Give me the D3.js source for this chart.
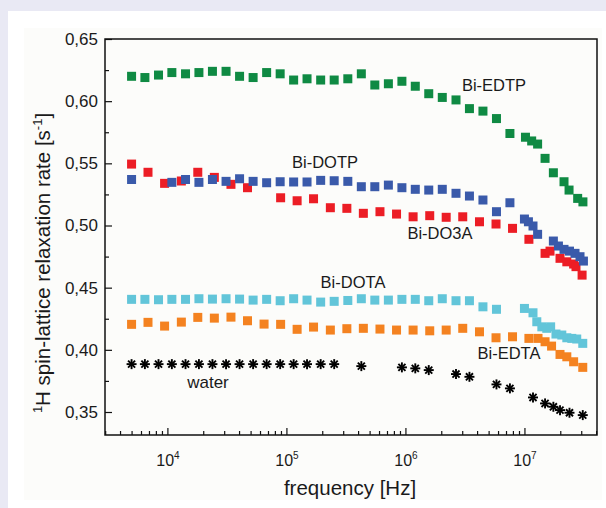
<!DOCTYPE html>
<html>
<head>
<meta charset="utf-8">
<script src="https://cdn.jsdelivr.net/npm/d3@7"></script>
<style>
  body { margin: 0; background: #e9e9f4; }
  svg { display: block; }
</style>
</head>
<body>
<svg id="chart" width="606" height="508"></svg>
<script>
// frequencies in Hz, rates in s^-1
const edtpFreq = [5000, 6470, 8420, 10900, 14200, 18400, 23900, 31100, 40400, 52500, 68200, 88600, 115000, 149000, 194000, 252000, 328000, 426000, 553000, 719000, 934000, 1210000, 1570000, 2040000, 2660000, 3450000, 4480000, 5820000, 7550000, 10200000, 11500000, 12900000, 14900000, 17500000, 21500000, 23700000, 28000000, 31000000];
const edtpRate = [0.620, 0.619, 0.621, 0.623, 0.622, 0.623, 0.624, 0.624, 0.620, 0.619, 0.623, 0.622, 0.617, 0.618, 0.617, 0.617, 0.618, 0.622, 0.613, 0.614, 0.616, 0.612, 0.606, 0.603, 0.601, 0.594, 0.592, 0.586, 0.574, 0.571, 0.568, 0.5655, 0.554, 0.5424, 0.5352, 0.5285, 0.5218, 0.519];

const dotpFreq = [5000, 10900, 14200, 18400, 23900, 31100, 40400, 52500, 68200, 88600, 115000, 149000, 194000, 252000, 328000, 426000, 553000, 719000, 934000, 1210000, 1570000, 2040000, 2660000, 3450000, 4480000, 5820000, 7550000, 10000000, 10800000, 11800000, 12900000, 17500000, 19300000, 21500000, 23900000, 26600000, 29300000, 31300000];
const dotpRate = [0.537, 0.5347, 0.537, 0.5347, 0.537, 0.5355, 0.5376, 0.5355, 0.5344, 0.5352, 0.535, 0.535, 0.5363, 0.536, 0.5355, 0.5312, 0.5312, 0.5325, 0.5304, 0.5291, 0.5285, 0.5291, 0.5259, 0.5237, 0.5205, 0.5111, 0.5183, 0.5052, 0.503, 0.4996, 0.4929, 0.4875, 0.4835, 0.4808, 0.4794, 0.4776, 0.4749, 0.4714];

const do3aFreq = [5000, 6870, 9470, 13100, 18000, 24800, 34200, 47100, 89400, 123000, 169000, 234000, 322000, 443000, 611000, 842000, 1160000, 1600000, 2200000, 3030000, 4190000, 5770000, 7940000, 10900000, 14900000, 16400000, 19900000, 22700000, 25900000, 27100000, 30500000];
const do3aRate = [0.5494, 0.5428, 0.5339, 0.5358, 0.5428, 0.5387, 0.5331, 0.5304, 0.5223, 0.5199, 0.5215, 0.5143, 0.5138, 0.5098, 0.5111, 0.5092, 0.507, 0.5079, 0.5066, 0.507, 0.503, 0.5012, 0.4977, 0.4889, 0.4776, 0.4794, 0.4736, 0.4708, 0.469, 0.4669, 0.4601];

const dotaFreq = [5000, 6470, 8420, 10900, 14200, 18400, 23900, 31100, 40400, 52500, 68200, 88600, 115000, 149000, 194000, 252000, 328000, 426000, 553000, 719000, 934000, 1210000, 1570000, 2040000, 2660000, 3450000, 4480000, 5820000, 10000000, 11800000, 12700000, 14000000, 15400000, 16600000, 18400000, 20600000, 22700000, 25000000, 27500000, 30900000];
const dotaRate = [0.4406, 0.4406, 0.4403, 0.4406, 0.4406, 0.4411, 0.4408, 0.4411, 0.4408, 0.440, 0.4406, 0.4395, 0.4411, 0.440, 0.4384, 0.439, 0.4397, 0.4411, 0.440, 0.440, 0.4406, 0.4406, 0.4395, 0.4411, 0.4395, 0.4395, 0.4346, 0.4326, 0.4333, 0.4298, 0.4226, 0.4185, 0.4173, 0.4185, 0.4127, 0.4119, 0.4097, 0.4092, 0.4087, 0.4052];

const edtaFreq = [5000, 6870, 9470, 13100, 18000, 24800, 34200, 47100, 64900, 89400, 123000, 169000, 234000, 322000, 443000, 611000, 842000, 1160000, 1600000, 2200000, 3030000, 4190000, 5770000, 7940000, 10900000, 13000000, 14900000, 16900000, 19900000, 22700000, 25900000, 30900000];
const edtaRate = [0.4205, 0.4221, 0.4191, 0.4223, 0.4261, 0.4255, 0.4263, 0.4234, 0.4207, 0.4205, 0.4165, 0.4183, 0.4159, 0.417, 0.4173, 0.4167, 0.4159, 0.4159, 0.4153, 0.4159, 0.4173, 0.4145, 0.4097, 0.4105, 0.4092, 0.4092, 0.4065, 0.403, 0.3963, 0.3944, 0.3904, 0.3859];

const waterFreq = [5000, 6470, 8420, 10900, 14200, 18400, 23900, 31100, 40400, 52500, 68200, 88600, 115000, 149000, 194000, 252000, 426000, 934000, 1210000, 1570000, 2660000, 3450000, 5820000, 7550000, 11800000, 14900000, 17500000, 19900000, 23900000, 30900000];
const waterRate = [0.3885, 0.3885, 0.3885, 0.3885, 0.3885, 0.3885, 0.3885, 0.3885, 0.3885, 0.3885, 0.3885, 0.3885, 0.3885, 0.3885, 0.3885, 0.3885, 0.3869, 0.3859, 0.3851, 0.3837, 0.3805, 0.3783, 0.3722, 0.369, 0.3617, 0.3569, 0.3542, 0.3515, 0.3494, 0.3475];

const yTicks = [0.35, 0.40, 0.45, 0.50, 0.55, 0.60, 0.65];
const yMinorTicks = [0.375, 0.425, 0.475, 0.525, 0.575, 0.625];
const xTicks = [1e4, 1e5, 1e6, 1e7];
const xExps = ["4", "5", "6", "7"];

const series = [
    {name: "Bi-EDTA", freq: edtaFreq, rate: edtaRate, color: "#f48220", label: [509, 359]},
    {name: "Bi-DOTA", freq: dotaFreq, rate: dotaRate, color: "#62c5d9", label: [353, 288]},
    {name: "Bi-DO3A", freq: do3aFreq, rate: do3aRate, color: "#ec1d25", label: [440, 239]},
    {name: "Bi-DOTP", freq: dotpFreq, rate: dotpRate, color: "#3a5aaa", label: [325, 168]},
    {name: "Bi-EDTP", freq: edtpFreq, rate: edtpRate, color: "#0f8a43", label: [494, 91]}
];

const svg = d3.select("#chart");
const mLeft = 105, mRight = 597, mTop = 39, mBottom = 435;

// backgrounds
svg.append("rect").attr("x", 8).attr("y", 11).attr("width", 598).attr("height", 497).attr("fill", "#ffffff");
svg.append("rect").attr("x", 24).attr("y", 28).attr("width", 578).attr("height", 472).attr("fill", "#fcfcfa");

const x = d3.scaleLog().domain([2990, 4.07e7]).range([mLeft, mRight]);
const y = d3.scaleLinear().domain([0.3315, 0.65]).range([mBottom, mTop]);

const font = "'Liberation Sans', Arial, sans-serif";

// y axis
const yAxis = d3.axisLeft(y)
        .tickValues(yTicks)
        .tickSize(-7)
        .tickPadding(7)
        .tickFormat(d => d3.format(".2f")(d).replace(".", ","));
const gy = svg.append("g").attr("transform", "translate(" + mLeft + ",0)").call(yAxis);
gy.select(".domain").remove();
gy.selectAll("text").attr("font-family", font).attr("font-size", 17).attr("fill", "#1a1a1a");
svg.append("g").attr("transform", "translate(" + mLeft + ",0)")
        .call(d3.axisLeft(y).tickValues(yMinorTicks).tickSize(-4).tickFormat(""))
        .select(".domain").remove();

// x axis, major + minor
let minor = [];
[1e3, 1e4, 1e5, 1e6, 1e7].forEach(p => {
    for (let m = 2; m <= 9; m++) {
        if (p * m > 2990 && p * m < 4.07e7) minor.push(p * m);
    }
});
const gx = svg.append("g").attr("transform", "translate(0," + mBottom + ")")
        .call(d3.axisBottom(x).tickValues(xTicks).tickSize(-7).tickFormat(""));
gx.select(".domain").remove();
gx.selectAll(".tick").append("text")
        .attr("y", 31)
        .attr("text-anchor", "middle")
        .attr("font-family", font)
        .attr("font-size", 16)
        .attr("fill", "#1a1a1a")
        .each(function (d, i) {
            const t = d3.select(this);
            t.append("tspan").text("10");
            t.append("tspan").attr("dy", -7).attr("font-size", 10).text(xExps[i]);
        });
svg.append("g").attr("transform", "translate(0," + mBottom + ")")
        .call(d3.axisBottom(x).tickValues(minor).tickSize(-4).tickFormat(""))
        .select(".domain").remove();

svg.selectAll(".tick line").attr("stroke", "#111").attr("stroke-width", 1.2);

// frame
svg.append("rect").attr("x", mLeft).attr("y", mTop)
        .attr("width", mRight - mLeft).attr("height", mBottom - mTop)
        .attr("fill", "none").attr("stroke", "#111").attr("stroke-width", 1.5);

// square markers
series.forEach(s => {
    svg.append("g").selectAll("rect")
        .data(s.freq.map((f, i) => [f, s.rate[i]]))
        .enter()
        .append("rect")
        .attr("x", d => x(d[0]) - 4.5)
        .attr("y", d => y(d[1]) - 4.5)
        .attr("width", 9)
        .attr("height", 9)
        .attr("fill", s.color);
    svg.append("text")
        .attr("x", s.label[0]).attr("y", s.label[1])
        .attr("text-anchor", "middle")
        .attr("font-family", font).attr("font-size", 16.5).attr("fill", "#1a1a1a")
        .text(s.name);
});

// water: asterisks
const star = svg.append("g").selectAll("g")
        .data(waterFreq.map((f, i) => [f, waterRate[i]]))
        .enter()
        .append("g")
        .attr("transform", d => "translate(" + x(d[0]) + "," + y(d[1]) + ")");
[0, 45, 90, 135].forEach(a => {
    const r = 5, rad = a * Math.PI / 180;
    star.append("line")
        .attr("x1", -r * Math.cos(rad)).attr("y1", -r * Math.sin(rad))
        .attr("x2", r * Math.cos(rad)).attr("y2", r * Math.sin(rad))
        .attr("stroke", "#000").attr("stroke-width", 1.9);
});
svg.append("text")
        .attr("x", 208).attr("y", 388)
        .attr("text-anchor", "middle")
        .attr("font-family", font).attr("font-size", 17).attr("fill", "#1a1a1a")
        .text("water");

// axis titles
svg.append("text")
        .attr("x", 350).attr("y", 495)
        .attr("text-anchor", "middle")
        .attr("font-family", font).attr("font-size", 20.5).attr("fill", "#1a1a1a")
        .text("frequency [Hz]");

const yt = svg.append("text")
        .attr("transform", "translate(50,263) rotate(-90)")
        .attr("text-anchor", "middle")
        .attr("font-family", font).attr("font-size", 20.5).attr("fill", "#1a1a1a");
yt.append("tspan").attr("dy", -8).attr("font-size", 13).text("1");
yt.append("tspan").attr("dy", 8).text("H spin-lattice relaxation rate [s");
yt.append("tspan").attr("dy", -8).attr("font-size", 13).text("-1");
yt.append("tspan").attr("dy", 8).text("]");
</script>
</body>
</html>
